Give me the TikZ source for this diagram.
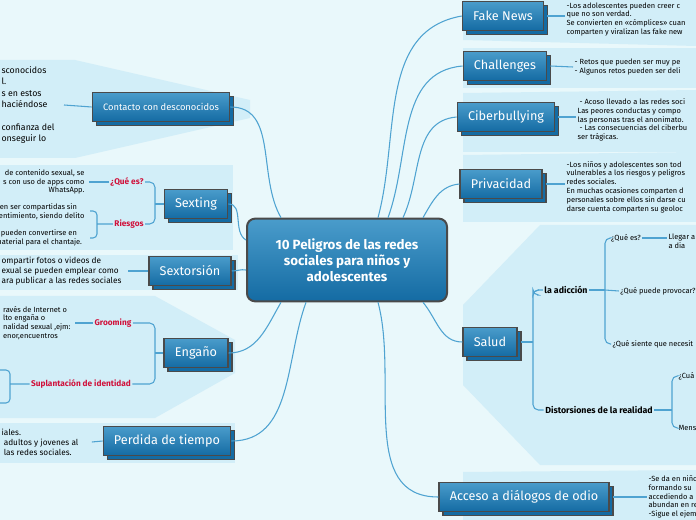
\documentclass[tikz,border=0pt]{standalone}
\usepackage{fontspec}
\setmainfont{Fira Sans}
\usetikzlibrary{positioning,shadows}
\definecolor{bgc}{HTML}{E9F8FB}
\definecolor{panelc}{HTML}{D2EEF8}
\definecolor{linkc}{HTML}{4FA3D1}
\definecolor{boxtop}{HTML}{4A9CCB}
\definecolor{boxbot}{HTML}{146BA3}
\definecolor{edgec}{HTML}{4A4A4A}
\definecolor{redc}{HTML}{D0103A}
\tikzset{
  topic/.style={draw=edgec,line width=1.2pt,top color=boxtop,bottom color=boxbot,
    text=white,font=\fontsize{9.5}{11}\selectfont,minimum height=22pt,inner xsep=8pt,
    copy shadow={shadow xshift=3pt,shadow yshift=-3pt,draw=edgec,line width=1.2pt,fill=boxbot}},
  panel/.style={fill=panelc,draw=none},
  link/.style={draw=linkc,line width=0.8pt},
  note/.style={font=\fontsize{5.6}{6.6}\selectfont,align=left,inner sep=1pt},
  sub/.style={font=\bfseries\fontsize{6.2}{7}\selectfont,text=redc,inner sep=1pt},
  bold/.style={font=\bfseries\fontsize{6.6}{7.5}\selectfont,inner sep=1pt},
}
\begin{document}
\begin{tikzpicture}[x=0.75pt,y=-0.75pt]
  \fill[bgc] (0,0) rectangle (696,520);
  \useasboundingbox (0,0) rectangle (696,520);
  \begin{scope}
  \clip (0,0) rectangle (696,520);
  % panels
  \fill[panel] (0,60) -- (75,60) -- (250,100) -- (250,118) -- (75,158) -- (0,158) -- cycle;
  \fill[panel] (0,165) -- (233,165) -- (233,250) -- (0,250) -- cycle;
  \fill[panel] (0,255) -- (238,255) -- (238,290) -- (0,290) -- cycle;
  \fill[panel] (0,296) -- (155,296) -- (235,340) -- (235,373) -- (155,418) -- (0,418) -- cycle;
  \fill[panel] (0,423) -- (235,423) -- (235,463) -- (0,463) -- cycle;
  \fill[panel] (463,0) -- (696,0) -- (696,46) -- (463,40) -- cycle;
  \fill[panel] (463,48) -- (696,48) -- (696,88) -- (463,88) -- cycle;
  \fill[panel] (463,93) -- (696,90) -- (696,152) -- (463,152) -- cycle;
  \fill[panel] (463,155) -- (696,152) -- (696,222) -- (463,222) -- cycle;
  \fill[panel] (463,305) -- (540,225) -- (696,225) -- (696,465) -- (540,465) -- (463,385) -- cycle;
  \fill[panel] (463,472) -- (696,470) -- (696,520) -- (463,520) -- cycle;

  % central node
  \node[draw=edgec,line width=1.5pt,rounded corners=6pt,top color=boxtop,bottom color=boxbot,
    text=white,font=\bfseries\fontsize{10}{12}\selectfont,align=center,minimum width=150pt,
    minimum height=62pt] (root) at (347,260)
    {10 Peligros de las redes\\ sociales para niños y\\ adolescentes};

  % topics
  \node[topic] (fake) at (503,16) {Fake News};
  \node[topic] (chal) at (505,66) {Challenges};
  \node[topic] (cyb) at (506,117) {Ciberbullying};
  \node[topic] (priv) at (501,184) {Privacidad};
  \node[topic] (salud) at (490,342) {Salud};
  \node[topic] (odio) at (524,497) {Acceso a diálogos de odio};
  \node[topic,font=\fontsize{7}{8}\selectfont] (cont) at (161,107) {Contacto con desconocidos};
  \node[topic] (sext) at (196,204) {Sexting};
  \node[topic] (sxt) at (190,271) {Sextorsión};
  \node[topic] (eng) at (196,353) {Engaño};
  \node[topic] (perd) at (167,441) {Perdida de tiempo};

  % links from root
  \draw[link] (root.north east) ++(-70,0) to[out=75,in=190] (fake.west);
  \draw[link] (root.north east) ++(-60,0) to[out=70,in=185] (chal.west);
  \draw[link] (root.north east) ++(-45,0) to[out=65,in=185] (cyb.west);
  \draw[link] (root.north east) ++(-25,0) to[out=60,in=185] (priv.west);
  \draw[link] (root.south east) ++(-25,0) to[out=-50,in=180] (salud.west);
  \draw[link] (root.south east) ++(-70,0) to[out=-75,in=180] (odio.west);
  \draw[link] (root.north west) ++(35,0) to[out=120,in=0] (cont.east);
  \draw[link] (root.west) ++(0,-20) to[out=150,in=0] (sext.east);
  \draw[link] (root.west) ++(0,10) to[out=170,in=0] (sxt.east);
  \draw[link] (root.south west) ++(35,0) to[out=-120,in=0] (eng.east);
  \draw[link] (root.south west) ++(60,0) to[out=-110,in=0] (perd.east);

  % right notes
  \node[note,anchor=north west] (tfake) at (565,1)
    {-Los adolescentes pueden creer c\\que no son verdad.\\Se convierten en «cómplices» cuan\\comparten y viralizan las fake new};
  \draw[link] (fake.east) ++(3,0) -- (tfake.west |- fake);
  \node[note,anchor=west] (tchal) at (573,67)
    {- Retos que pueden ser muy pe\\- Algunos retos pueden ser deli};
  \draw[link] (chal.east) ++(3,0) -- (tchal.west);
  \node[note,anchor=west] (tcyb) at (576,120)
    {\ - Acoso llevado a las redes soci\\Las peores conductas y compo\\las personas tras el anonimato.\\\ - Las consecuencias del ciberbu\\ser trágicas.};
  \draw[link] (cyb.east) ++(3,0) -- (tcyb.west |- cyb);
  \node[note,anchor=west] (tpriv) at (565,187)
    {-Los niños y adolescentes son tod\\vulnerables a los riesgos y peligros\\redes sociales.\\En muchas ocasiones comparten d\\personales sobre ellos sin darse cu\\darse cuenta comparten su geoloc};
  \draw[link] (priv.east) ++(3,0) -- (tpriv.west |- priv);
  \node[note,anchor=west] (todio) at (647,497)
    {-Se da en niño\\formando su\\accediendo a\\abundan en re\\-Sigue el ejem};
  \draw[link] (odio.east) ++(3,0) -- (todio.west);

  % salud subtree
  \node[bold] (adic) at (566,290) {la adicción};
  \node[bold] (dist) at (599,410) {Distorsiones de la realidad};
  \draw[link,rounded corners=4pt] (salud.east) ++(3,0) -- (533,342);
  \draw[link,rounded corners=4pt] (adic.west) -- (533,290) |- (537,295);
  \draw[link,rounded corners=4pt] (adic.west) ++(-4,0) -| (533,410) -- (dist.west);
  \node[note] (qes) at (626,238) {¿Qué es?};
  \node[note,anchor=west] (lleg) at (667,241) {Llegar a\\a dia};
  \node[note] (prov) at (658,291) {¿Qué puede provocar?};
  \node[note,anchor=west] (nec) at (611,344) {¿Qué siente que necesit};
  \draw[link] (qes.east) -- (lleg.west |- qes);
  \draw[link,rounded corners=4pt] (adic.east) -- (605,290);
  \draw[link,rounded corners=4pt] (qes.west) -- (605,238) -- (605,344) -- (nec.west);
  \draw[link] (605,290) -- (prov.west);
  \node[note,anchor=west] (cua) at (677,376) {¿Cuá};
  \node[note,anchor=west] (mens) at (677,428) {Mens};
  \draw[link,rounded corners=4pt] (dist.east) -- (672,410);
  \draw[link,rounded corners=4pt] (cua.west) -- (672,376) -- (672,428) -- (mens.west);

  % left notes
  \node[note,anchor=west,font=\fontsize{6.6}{8.6}\selectfont] (tcont) at (0,105)
    {sconocidos\\l.\\s en estos\\haciéndose\\\\confianza del\\onseguir lo};
  \draw[link] (tcont.east) ++(8,0) -- (cont.west);

  \node[sub] (sq) at (127,182) {¿Qué es?};
  \node[sub] (sr) at (129,224) {Riesgos};
  \node[note,anchor=east,align=right] (tsq) at (86,182)
    {de contenido sexual, se\\s con uso de apps como\\WhatsApp.};
  \node[note,anchor=east] (tsr) at (86,225)
    {den ser compartidas sin\\sentimiento, siendo delito\\\\s pueden convertirse en\\material para el chantaje.};
  \draw[link] (tsq.east) ++(3,0) -- (sq.west);
  \draw[link,rounded corners=4pt] (sq.east) -- (155,182) -- (155,224) -- (sr.east);
  \draw[link] (155,204) -- (sext.west);
  \draw[link,rounded corners=3pt] (sr.west) -- (97,224) (90,211) -- (97,211) -- (97,238) -- (90,238);

  \node[note,anchor=west,font=\fontsize{6.2}{7.4}\selectfont] (tsxt) at (0,271)
    {ompartir fotos o videos de\\exual se pueden emplear como\\ara publicar a las redes sociales};
  \draw[link] (tsxt.east) ++(5,0) -- (sxt.west);

  \node[sub] (groom) at (113,323) {Grooming};
  \node[sub] (supl) at (81,384) {Suplantación de identidad};
  \node[note,anchor=east] (tgroom) at (72,323)
    {ravés de Internet o\\lto engaña o\\nalidad sexual ,ejm:\\enor,encuentros};
  \draw[link] (tgroom.east) ++(3,0) -- (groom.west);
  \draw[link,rounded corners=4pt] (groom.east) -- (155,323) -- (155,384) -- (supl.east);
  \draw[link] (155,353) -- (eng.west);
  \draw[link,rounded corners=3pt] (supl.west) -- (10,384) (0,370) -- (10,370) -- (10,403) -- (0,403);

  \node[note,anchor=west,font=\fontsize{6.2}{7.4}\selectfont] (tperd) at (0,442)
    {iales.\\\ adultos y jovenes al\\\ las redes sociales.};
  \draw[link] (tperd.east) ++(12,0) -- (perd.west);
  \end{scope}
\end{tikzpicture}
\end{document}
